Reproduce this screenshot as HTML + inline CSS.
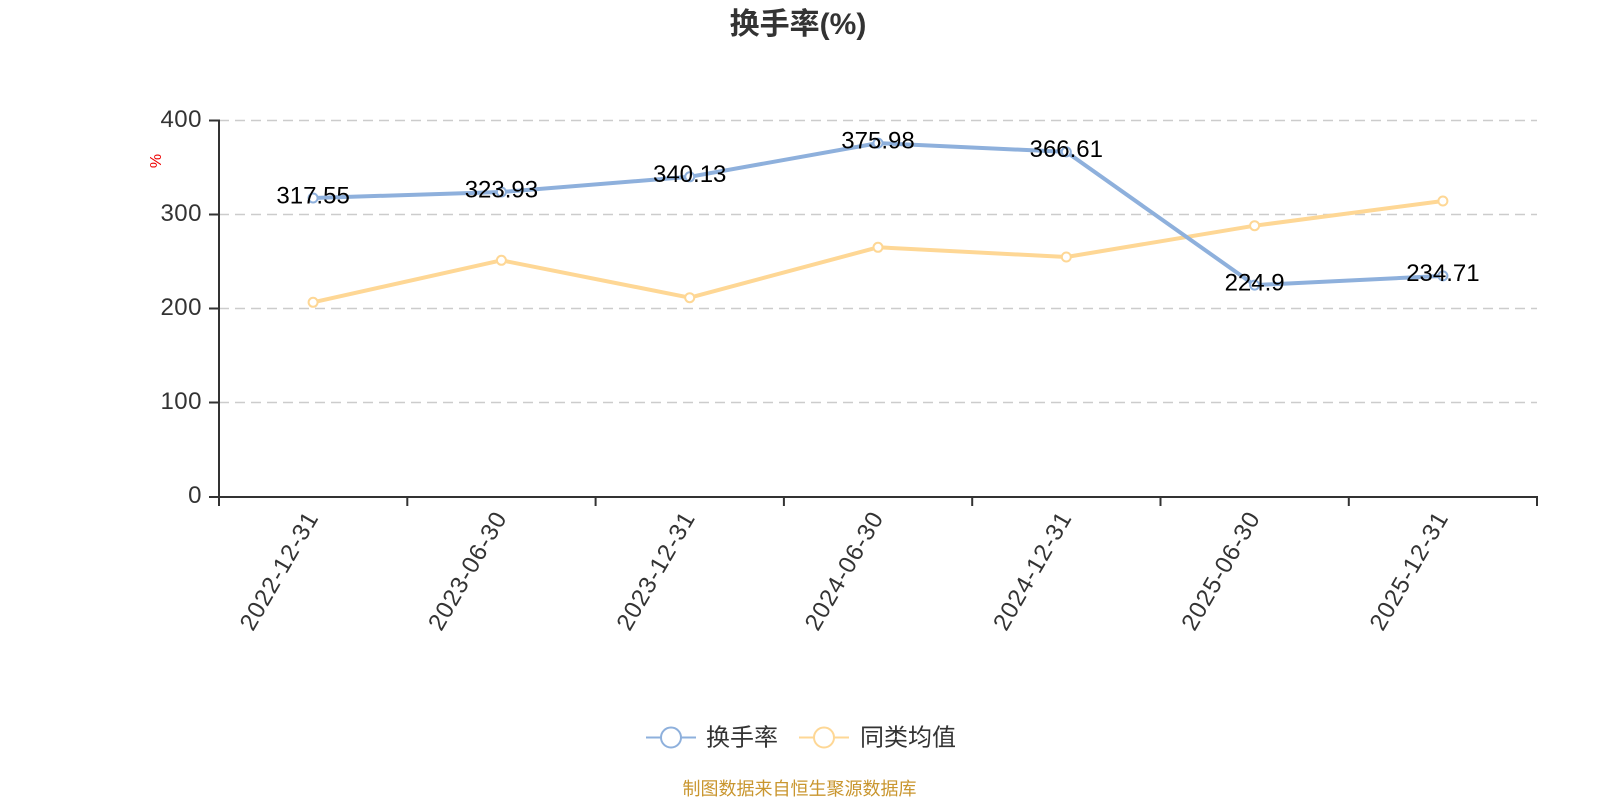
<!DOCTYPE html>
<html>
<head>
<meta charset="utf-8">
<style>
  html, body { margin:0; padding:0; background:#fff; }
  svg { display:block; }
  text { font-family: "Liberation Sans", "Noto Sans CJK SC", sans-serif; }
</style>
</head>
<body>
<svg width="1600" height="800" viewBox="0 0 1600 800" xmlns="http://www.w3.org/2000/svg">
  <rect width="1600" height="800" fill="#fff"/>

  <!-- Title -->
  <text x="798" y="34" text-anchor="middle" font-size="30" font-weight="bold" fill="#333">换手率(%)</text>

  <!-- Gridlines -->
  <g stroke="#ccc" stroke-width="1.5" stroke-dasharray="10,6">
    <line x1="219" y1="120.5" x2="1537" y2="120.5"/>
    <line x1="219" y1="214.5" x2="1537" y2="214.5"/>
    <line x1="219" y1="308.5" x2="1537" y2="308.5"/>
    <line x1="219" y1="402.5" x2="1537" y2="402.5"/>
  </g>

  <!-- Axes -->
  <g stroke="#333" stroke-width="2" fill="none">
    <line x1="219" y1="119.5" x2="219" y2="497.5"/>
    <line x1="218" y1="497" x2="1538" y2="497"/>
    <line x1="209" y1="120.5" x2="219" y2="120.5"/>
    <line x1="209" y1="214.5" x2="219" y2="214.5"/>
    <line x1="209" y1="308.5" x2="219" y2="308.5"/>
    <line x1="209" y1="402.5" x2="219" y2="402.5"/>
    <line x1="209" y1="497" x2="219" y2="497"/>
    <line x1="219" y1="497" x2="219" y2="506"/>
    <line x1="407.3" y1="497" x2="407.3" y2="506"/>
    <line x1="595.6" y1="497" x2="595.6" y2="506"/>
    <line x1="783.9" y1="497" x2="783.9" y2="506"/>
    <line x1="972.2" y1="497" x2="972.2" y2="506"/>
    <line x1="1160.5" y1="497" x2="1160.5" y2="506"/>
    <line x1="1348.8" y1="497" x2="1348.8" y2="506"/>
    <line x1="1537" y1="497" x2="1537" y2="506"/>
  </g>

  <!-- Y labels -->
  <g font-size="24" fill="#333" text-anchor="end" letter-spacing="0.5">
    <text x="202" y="127">400</text>
    <text x="202" y="221">300</text>
    <text x="202" y="315">200</text>
    <text x="202" y="409">100</text>
    <text x="202" y="503">0</text>
  </g>

  <!-- Y axis name -->
  <text transform="translate(161,161) rotate(-90)" text-anchor="middle" font-size="16" fill="#e00">%</text>

  <!-- X labels -->
  <g font-size="24" fill="#333" text-anchor="end" letter-spacing="1">
    <text transform="translate(312,513) rotate(-60)" dy="0.35em">2022-12-31</text>
    <text transform="translate(500.4,513) rotate(-60)" dy="0.35em">2023-06-30</text>
    <text transform="translate(688.7,513) rotate(-60)" dy="0.35em">2023-12-31</text>
    <text transform="translate(877,513) rotate(-60)" dy="0.35em">2024-06-30</text>
    <text transform="translate(1065.3,513) rotate(-60)" dy="0.35em">2024-12-31</text>
    <text transform="translate(1253.6,513) rotate(-60)" dy="0.35em">2025-06-30</text>
    <text transform="translate(1441.9,513) rotate(-60)" dy="0.35em">2025-12-31</text>
  </g>

  <!-- Orange series -->
  <polyline fill="none" stroke="#fed795" stroke-width="4" stroke-linejoin="round"
    points="313.1,302.3 501.4,260.3 689.7,297.7 878,247.3 1066.3,257 1254.6,225.7 1442.9,201"/>
  <g fill="#fff" stroke="#fed795" stroke-width="2">
    <circle cx="313.1" cy="302.3" r="4.5"/>
    <circle cx="501.4" cy="260.3" r="4.5"/>
    <circle cx="689.7" cy="297.7" r="4.5"/>
    <circle cx="878" cy="247.3" r="4.5"/>
    <circle cx="1066.3" cy="257" r="4.5"/>
    <circle cx="1254.6" cy="225.7" r="4.5"/>
    <circle cx="1442.9" cy="201" r="4.5"/>
  </g>

  <!-- Blue series -->
  <polyline fill="none" stroke="#8eb0dc" stroke-width="4" stroke-linejoin="round"
    points="313.1,198 501.4,192 689.7,176.8 878,143.1 1066.3,151.9 1254.6,285.1 1442.9,275.9"/>
  <g fill="#fff" stroke="#8eb0dc" stroke-width="2">
    <circle cx="313.1" cy="198" r="4.5"/>
    <circle cx="501.4" cy="192" r="4.5"/>
    <circle cx="689.7" cy="176.8" r="4.5"/>
    <circle cx="878" cy="143.1" r="4.5"/>
    <circle cx="1066.3" cy="151.9" r="4.5"/>
    <circle cx="1254.6" cy="285.1" r="4.5"/>
    <circle cx="1442.9" cy="275.9" r="4.5"/>
  </g>

  <!-- Data labels -->
  <g font-size="24" fill="#000" text-anchor="middle">
    <text x="313.1" y="203.3">317.55</text>
    <text x="501.4" y="197.3">323.93</text>
    <text x="689.7" y="182.1">340.13</text>
    <text x="878" y="148.4">375.98</text>
    <text x="1066.3" y="157.2">366.61</text>
    <text x="1254.6" y="290.4">224.9</text>
    <text x="1442.9" y="281.2">234.71</text>
  </g>

  <!-- Legend -->
  <line x1="646" y1="737.5" x2="696" y2="737.5" stroke="#8eb0dc" stroke-width="2"/>
  <circle cx="671" cy="737.5" r="10" fill="#fff" stroke="#8eb0dc" stroke-width="2"/>
  <text x="706" y="745.5" font-size="24" fill="#333">换手率</text>

  <line x1="799" y1="737.5" x2="849" y2="737.5" stroke="#fed795" stroke-width="2"/>
  <circle cx="824" cy="737.5" r="10" fill="#fff" stroke="#fed795" stroke-width="2"/>
  <text x="860" y="745.5" font-size="24" fill="#333">同类均值</text>

  <!-- Source -->
  <text x="799.5" y="795" text-anchor="middle" font-size="18" fill="#c9962f">制图数据来自恒生聚源数据库</text>
</svg>
</body>
</html>
